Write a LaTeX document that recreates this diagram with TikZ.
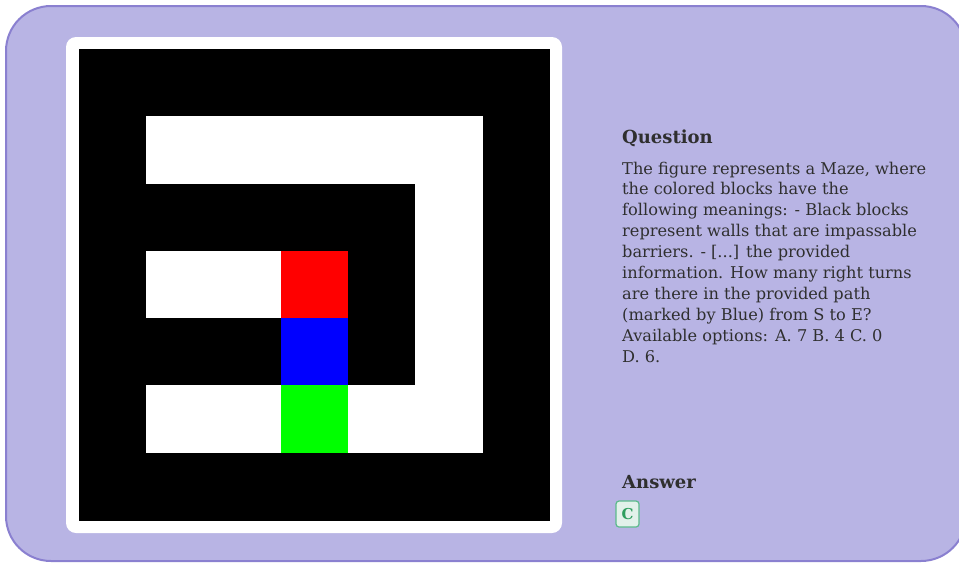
\documentclass[tikz,border=0pt]{standalone}
\usepackage{fontspec}
\setmainfont{DejaVu Serif}
\definecolor{panelfill}{HTML}{B8B4E4}
\definecolor{panelline}{HTML}{8A80D0}
\definecolor{textgray}{HTML}{2F2F2F}
\definecolor{ansgreen}{HTML}{2E9E5E}
\definecolor{ansfill}{HTML}{E2F1EA}
\definecolor{ansline}{HTML}{5CBB8C}
\begin{document}
\begin{tikzpicture}[
    x=1pt, y=-1pt,
    heading/.style={
        anchor=base west,
        inner sep=0pt,
        text=textgray,
        font=\fontsize{18}{21}\selectfont\bfseries
    },
    body/.style={
        anchor=north west,
        inner sep=0pt,
        align=left,
        text=textgray,
        font=\fontsize{16.2}{20.9}\selectfont
    },
    answerbox/.style={
        draw=ansline,
        fill=ansfill,
        line width=1.2pt,
        rounded corners=3pt,
        minimum width=23pt,
        minimum height=26pt,
        inner sep=0pt,
        text=ansgreen,
        font=\fontsize{15}{17}\selectfont\bfseries
    }
]
    \useasboundingbox (0,0) rectangle (959,563);
    \fill[white] (0,0) rectangle (959,563);
    \draw[panelline, fill=panelfill, line width=2pt, rounded corners=45pt]
        (6,6) rectangle (966,561);

    % maze
    \fill[white, rounded corners=10pt] (66,37) rectangle (562,533);
    \fill[black] (79,49) rectangle (550,521);
    \def\cell{67.29}
    \foreach \c/\r in {1/1,2/1,3/1,4/1,5/1,5/2,1/3,2/3,5/3,5/4,1/5,2/5,4/5,5/5}
        \fill[white] ({79+\c*\cell},{49+\r*\cell}) rectangle +(\cell,\cell);
    \fill[red]       ({79+3*\cell},{49+3*\cell}) rectangle +(\cell,\cell);
    \fill[blue]      ({79+3*\cell},{49+4*\cell}) rectangle +(\cell,\cell);
    \fill[green]     ({79+3*\cell},{49+5*\cell}) rectangle +(\cell,\cell);

    % question and answer
    \node[heading] (question) at (622,143) {Question};
    \node[body] (text) at (622,161.5)
        {The figure represents a Maze, where\\
         the colored blocks have the\\
         following meanings: - Black blocks\\
         represent walls that are impassable\\
         barriers. - [...] the provided\\
         information. How many right turns\\
         are there in the provided path\\
         (marked by Blue) from S to E?\\
         Available options: A. 7 B. 4 C. 0\\
         D. 6.};
    \node[heading] (answer) at (622,488) {Answer};
    \node[answerbox] (choice) at (627.5,514) {C};
\end{tikzpicture}
\end{document}
